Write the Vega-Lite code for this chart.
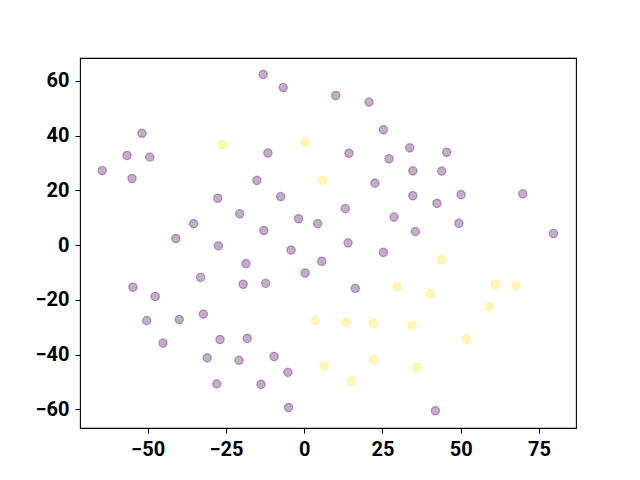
{
  "$schema": "https://vega.github.io/schema/vega-lite/v6.json",
  "autosize": {"type": "none"},
  "width": 496,
  "height": 370,
  "padding": {"left": 80, "top": 58, "right": 64, "bottom": 52},
  "background": "white",
  "config": {
    "view": {"stroke": "black", "strokeWidth": 1.1},
    "axis": {
      "labelFont": "Roboto",
      "labelFontSize": 20,
      "labelFontWeight": "bold",
      "labelColor": "black",
      "tickColor": "black",
      "tickSize": 5,
      "tickWidth": 1.1,
      "domain": false,
      "grid": false,
      "title": null
    }
  },
  "data": {
    "values": [
      {"x": -13.1, "y": 62.3, "c": "a"},
      {"x": -6.7, "y": 57.5, "c": "a"},
      {"x": 10.1, "y": 54.6, "c": "a"},
      {"x": 20.7, "y": 52.2, "c": "a"},
      {"x": 25.3, "y": 42.1, "c": "a"},
      {"x": -51.8, "y": 40.8, "c": "a"},
      {"x": -56.6, "y": 32.7, "c": "a"},
      {"x": -49.3, "y": 32.1, "c": "a"},
      {"x": -11.6, "y": 33.6, "c": "a"},
      {"x": 14.3, "y": 33.5, "c": "a"},
      {"x": 33.7, "y": 35.5, "c": "a"},
      {"x": 45.5, "y": 33.9, "c": "a"},
      {"x": 27.1, "y": 31.5, "c": "a"},
      {"x": -64.5, "y": 27.2, "c": "a"},
      {"x": -55.0, "y": 24.3, "c": "a"},
      {"x": -15.1, "y": 23.6, "c": "a"},
      {"x": 22.6, "y": 22.6, "c": "a"},
      {"x": 34.7, "y": 27.1, "c": "a"},
      {"x": 43.9, "y": 27.0, "c": "a"},
      {"x": -27.6, "y": 17.1, "c": "a"},
      {"x": -7.5, "y": 17.7, "c": "a"},
      {"x": 34.7, "y": 18.0, "c": "a"},
      {"x": 50.1, "y": 18.4, "c": "a"},
      {"x": 69.8, "y": 18.7, "c": "a"},
      {"x": 13.1, "y": 13.3, "c": "a"},
      {"x": 42.4, "y": 15.2, "c": "a"},
      {"x": -20.6, "y": 11.4, "c": "a"},
      {"x": 28.7, "y": 10.2, "c": "a"},
      {"x": -35.3, "y": 7.8, "c": "a"},
      {"x": -1.8, "y": 9.6, "c": "a"},
      {"x": 4.3, "y": 7.8, "c": "a"},
      {"x": 49.4, "y": 7.9, "c": "a"},
      {"x": -12.9, "y": 5.3, "c": "a"},
      {"x": 35.5, "y": 4.9, "c": "a"},
      {"x": 79.6, "y": 4.2, "c": "a"},
      {"x": -41.0, "y": 2.4, "c": "a"},
      {"x": 14.0, "y": 0.8, "c": "a"},
      {"x": -27.4, "y": -0.3, "c": "a"},
      {"x": -4.2, "y": -1.8, "c": "a"},
      {"x": 25.3, "y": -2.7, "c": "a"},
      {"x": 5.6, "y": -5.9, "c": "a"},
      {"x": -18.6, "y": -6.8, "c": "a"},
      {"x": 0.3, "y": -10.2, "c": "a"},
      {"x": -33.1, "y": -11.8, "c": "a"},
      {"x": -54.7, "y": -15.4, "c": "a"},
      {"x": -19.5, "y": -14.3, "c": "a"},
      {"x": -12.3, "y": -14.0, "c": "a"},
      {"x": 16.3, "y": -15.8, "c": "a"},
      {"x": -47.6, "y": -18.8, "c": "a"},
      {"x": -32.2, "y": -25.2, "c": "a"},
      {"x": -50.3, "y": -27.6, "c": "a"},
      {"x": -39.9, "y": -27.2, "c": "a"},
      {"x": -26.9, "y": -34.5, "c": "a"},
      {"x": -18.2, "y": -34.1, "c": "a"},
      {"x": -45.1, "y": -35.8, "c": "a"},
      {"x": -31.0, "y": -41.2, "c": "a"},
      {"x": -9.6, "y": -40.7, "c": "a"},
      {"x": -20.8, "y": -42.1, "c": "a"},
      {"x": -5.2, "y": -46.5, "c": "a"},
      {"x": -27.9, "y": -50.7, "c": "a"},
      {"x": -13.8, "y": -50.9, "c": "a"},
      {"x": -5.0, "y": -59.3, "c": "a"},
      {"x": 41.9, "y": -60.5, "c": "a"},
      {"x": -26.2, "y": 36.7, "c": "b"},
      {"x": 0.4, "y": 37.5, "c": "b"},
      {"x": 5.9, "y": 23.6, "c": "b"},
      {"x": 43.9, "y": -5.3, "c": "b"},
      {"x": 29.7, "y": -15.2, "c": "b"},
      {"x": 61.1, "y": -14.3, "c": "b"},
      {"x": 40.2, "y": -17.8, "c": "b"},
      {"x": 67.7, "y": -14.8, "c": "b"},
      {"x": 59.1, "y": -22.5, "c": "b"},
      {"x": 13.4, "y": -28.2, "c": "b"},
      {"x": 22.1, "y": -28.6, "c": "b"},
      {"x": 3.5, "y": -27.6, "c": "b"},
      {"x": 34.5, "y": -29.4, "c": "b"},
      {"x": 51.8, "y": -34.3, "c": "b"},
      {"x": 22.1, "y": -42.0, "c": "b"},
      {"x": 6.4, "y": -44.1, "c": "b"},
      {"x": 35.8, "y": -44.7, "c": "b"},
      {"x": 15.0, "y": -49.8, "c": "b"}
    ]
  },
  "mark": {
    "type": "point",
    "shape": "circle",
    "filled": true,
    "size": 70,
    "fillOpacity": 0.32,
    "strokeOpacity": 0.32,
    "strokeWidth": 1.3
  },
  "encoding": {
    "x": {
      "field": "x",
      "type": "quantitative",
      "scale": {"domain": [-71.6, 86.8], "nice": false, "zero": false},
      "axis": {"values": [-50, -25, 0, 25, 50, 75], "format": "d", "labelPadding": 6}
    },
    "y": {
      "field": "y",
      "type": "quantitative",
      "scale": {"domain": [-66.8, 68.3], "nice": false, "zero": false},
      "axis": {"values": [-60, -40, -20, 0, 20, 40, 60], "format": "d", "labelPadding": 6}
    },
    "color": {
      "field": "c",
      "type": "nominal",
      "scale": {"domain": ["a", "b"], "range": ["#440154", "#fde725"]},
      "legend": null
    },
    "stroke": {
      "field": "c",
      "type": "nominal",
      "scale": {"domain": ["a", "b"], "range": ["#440154", "#fde725"]},
      "legend": null
    }
  }
}
